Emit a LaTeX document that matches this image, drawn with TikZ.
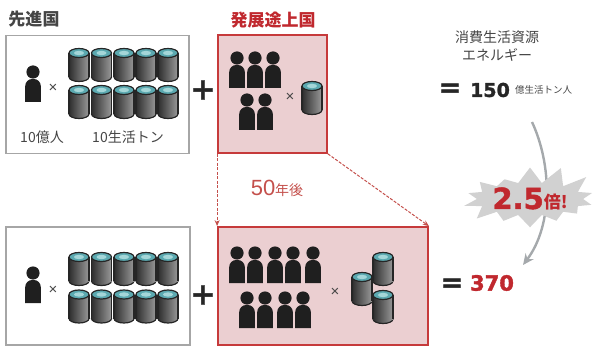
\documentclass[tikz,border=0pt]{standalone}
\usepackage{fontspec}
\newfontfamily\jpfont{Noto Sans CJK JP}
\newfontfamily\numfont{DejaVu Sans}[BoldFeatures={FakeBold=1.6}]
\newfontfamily\arialfont{Liberation Sans}
\usetikzlibrary{shapes.symbols, arrows.meta, positioning}

\definecolor{boxgray}{HTML}{A6A6A6}
\definecolor{darkred}{HTML}{C0282E}
\definecolor{boxred}{HTML}{C63A3B}
\definecolor{pinkfill}{HTML}{EBCFD1}
\definecolor{softred}{HTML}{C4504C}
\definecolor{drumtop}{HTML}{5BA9B0}
\definecolor{drumlight}{HTML}{A4D6D8}
\definecolor{txtgray}{HTML}{454545}
\definecolor{arrowgray}{HTML}{A5A9AC}

\tikzstyle{graybox} = [draw=boxgray, line width=1.6pt, minimum height=118pt]
\tikzstyle{redbox} = [draw=boxred, fill=pinkfill, line width=1.8pt, minimum height=118pt]
\tikzstyle{title} = [font=\jpfont\bfseries\fontsize{17}{17}\selectfont, inner sep=0pt]
\tikzstyle{caption} = [font=\jpfont\fontsize{14}{18}\selectfont, text=txtgray, inner sep=0pt]
\tikzstyle{times} = [font=\arialfont\fontsize{15}{15}\selectfont, text=txtgray, inner sep=0pt]
\tikzstyle{plus} = [font=\numfont\bfseries\fontsize{30}{30}\selectfont, text=black!85, inner sep=0pt]
\tikzstyle{eqsign} = [font=\numfont\bfseries\fontsize{27}{27}\selectfont, text=black!85, inner sep=0pt]
\tikzstyle{bignum} = [font=\numfont\bfseries\fontsize{19}{19}\selectfont, inner sep=0pt]
\tikzstyle{unit} = [font=\jpfont\fontsize{9.5}{10}\selectfont, text=txtgray, inner sep=0pt]
\tikzstyle{dasharrow} = [draw=softred, line width=1pt, dash pattern=on 3pt off 1.5pt, -{Stealth[length=6pt, width=5pt]}]
\tikzstyle{growth} = [draw=arrowgray, line width=2.4pt, -{Stealth[length=11pt, width=10pt]}]
\tikzstyle{burst} = [starburst, fill=black!18, starburst points=14, starburst point height=22pt,
  random starburst=31, minimum width=116pt, minimum height=68pt, inner sep=0pt]

\tikzset{
  person/.pic={
    \fill[black!88] (0,0) circle (6.6);
    \fill[black!88] (-7.8,30) [rounded corners=7pt] -- (-7.8,7) -- (7.8,7) [sharp corners] -- (7.8,30) -- cycle;
  },
  drum/.pic={
    \filldraw[draw=black!85, line width=1.2pt, left color=black!82, right color=black!40] (0,12) ellipse (10 and 4.5);
    \fill[left color=black!82, right color=black!40] (-10,-12) rectangle (10,12);
    \draw[black!85, line width=1.2pt] (-10,-12) -- (-10,12) (10,-12) -- (10,12);
    \filldraw[draw=black!85, line width=1.2pt, fill=drumtop] (0,-12) ellipse (10 and 4.5);
    \fill[drumlight] (0,-12) ellipse (5 and 2.2);
  }
}

\begin{document}
\begin{tikzpicture}[x=1pt, y=-1pt]
	\useasboundingbox (0,0) rectangle (593,347);

	% the four boxes
	\node [graybox, minimum width=183pt] (devnow) at (97.5,94.5) {};
	\node [redbox, minimum width=109pt] (emgnow) at (272.5,94) {};
	\node [graybox, minimum width=184pt] (devlater) at (98,286) {};
	\node [redbox, minimum width=210pt] (emglater) at (323,286) {};

	\node [title, text=txtgray] (devtitle) at (34,19) {先進国};
	\node [title, text=darkred] (emgtitle) at (273,20) {発展途上国};

	% developed, now
	\pic at (33,72) {person};
	\node [times] (x1) at (53,88) {×};
	\foreach \x in {79,101.5,124,146,168}
		\foreach \y in {65,102}
			\pic at (\x,\y) {drum};
	\node [caption] (people) at (42,137) {10億人};
	\node [caption] (tons) at (128,137) {10生活トン};
	\node [plus] (plus1) at (203,90) {+};

	% developing, now
	\foreach \x in {237,255,273}
		\pic at (\x,58) {person};
	\foreach \x in {247,265}
		\pic at (\x,100) {person};
	\node [times] (x2) at (290,97) {×};
	\pic at (312,98) {drum};

	% developed, later
	\pic at (33,273) {person};
	\node [times] (x3) at (53,290) {×};
	\foreach \x in {79,101.5,124,146,168}
		\foreach \y in {269,306.5}
			\pic at (\x,\y) {drum};
	\node [plus] (plus2) at (203,295) {+};

	% developing, later
	\foreach \x in {237,255,275,293,313}
		\pic at (\x,253) {person};
	\foreach \x in {247,265,285,303}
		\pic at (\x,298) {person};
	\node [times] (x4) at (335,292) {×};
	\pic at (362,289) {drum};
	\pic at (383,269) {drum};
	\pic at (383,307) {drum};

	% 50 years on
	\node [font=\jpfont\fontsize{14}{14}\selectfont, text=softred, inner sep=0pt] (later) at (277,188)
		{{\arialfont\fontsize{22}{22}\selectfont 50}年後};
	\path [dasharrow] (emgnow.south west) -- (emglater.north west);
	\path [dasharrow] (emgnow.south east) -- (emglater.north east);

	% totals
	\node [caption, align=center] (resource) at (497,46) {消費生活資源\\エネルギー};
	\node [eqsign] (eq1) at (450,90) {=};
	\node [bignum, text=black!85] (n150) at (490,90) {150};
	\node [unit, right=5pt of n150] (perunit) {億生活トン人};
	\node [eqsign] (eq2) at (452,285) {=};
	\node [bignum, text=darkred, font=\numfont\bfseries\fontsize{21}{21}\selectfont] (n370) at (492,283) {370};

	\coordinate (from150) at (532,122);
	\coordinate (to370) at (523,265);
	\path [growth] (from150) .. controls (552,165) and (553,225) .. (to370);
	\node [burst] (ratio) at (530,199)
		{\textcolor{darkred}{\numfont\bfseries\fontsize{29}{29}\selectfont 2.5\jpfont\fontsize{17}{17}\selectfont 倍!}};
\end{tikzpicture}
\end{document}
